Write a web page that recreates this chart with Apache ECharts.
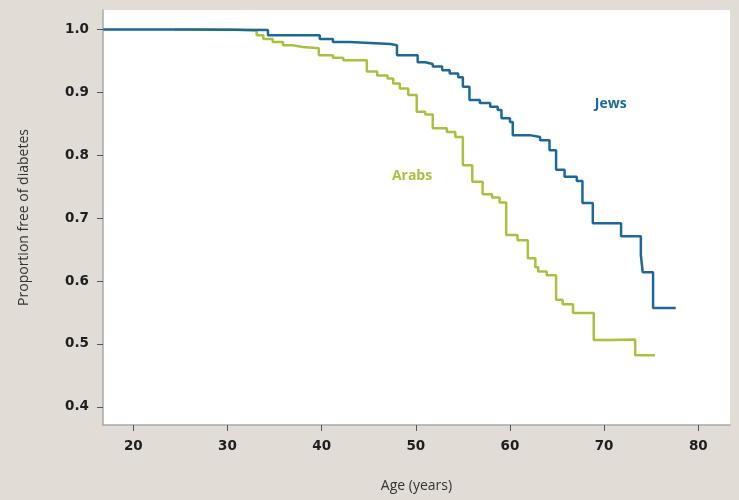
<!DOCTYPE html>
<html>
<head>
<meta charset="utf-8">
<script src="https://cdn.jsdelivr.net/npm/echarts@6/dist/echarts.min.js"></script>
<style>
html,body{margin:0;padding:0;background:#e1dcd6;}
#c{width:739px;height:500px;}
</style>
</head>
<body>
<div id="c"></div>
<script>
// Ages (years) at which each step begins, and survival proportion from that age
const jewsAges = [16.8,25.7,34.3,39.8,41.2,43.0,47.3,48.0,50.2,51.0,51.8,52.8,53.6,54.5,55.0,55.7,56.8,57.9,58.7,59.1,60.0,60.3,62.1,63.2,64.2,64.9,65.8,67.1,67.7,68.8,71.8,73.9,74.1,75.2,77.6];
const jewsVals = [1.000,0.999,0.991,0.985,0.980,0.977,0.975,0.959,0.948,0.945,0.941,0.935,0.930,0.924,0.909,0.888,0.883,0.877,0.872,0.859,0.853,0.832,0.829,0.824,0.808,0.777,0.766,0.759,0.724,0.692,0.671,0.641,0.614,0.557,0.556];
const arabsAges = [24.4,30.6,33.1,33.8,34.8,35.9,36.9,38.0,39.7,41.2,42.3,44.8,45.9,47.0,47.6,48.3,49.2,50.1,51.0,51.8,53.3,54.2,55.0,56.0,57.1,58.1,58.9,59.6,60.8,61.9,62.7,63.0,63.9,64.9,65.6,66.7,68.9,70.8,73.3,75.4];
const arabsVals = [1.000,0.998,0.991,0.985,0.980,0.975,0.972,0.970,0.959,0.955,0.951,0.933,0.927,0.922,0.914,0.906,0.896,0.869,0.865,0.843,0.837,0.829,0.784,0.758,0.738,0.733,0.725,0.673,0.665,0.636,0.622,0.615,0.609,0.570,0.563,0.549,0.506,0.507,0.482,0.481];
const xTicks = [20,30,40,50,60,70,80];
const yTicks = [0.4,0.5,0.6,0.7,0.8,0.9,1.0];
const seriesNames = ['Jews','Arabs'];

const BLUE = '#1c6898', GREEN = '#a8c23f';
const chart = echarts.init(document.getElementById('c'));
const zip = (a,b)=>a.map((v,i)=>[v,b[i]]);
chart.setOption({
  backgroundColor:'#e1dcd6',
  animation:false,
  grid:{left:103,top:10,right:9,bottom:75,show:true,backgroundColor:'#fff',borderWidth:0},
  xAxis:{
    type:'value',min:16.78,max:83.37,
    name:'Age (years)',nameLocation:'middle',nameGap:54,
    nameTextStyle:{fontFamily:'Open Sans',fontSize:14,color:'#333'},
    axisLine:{show:true,lineStyle:{color:'#a8a8a8',width:1.5}},
    axisTick:{show:true,length:6,customValues:xTicks,lineStyle:{color:'#555'}},
    axisLabel:{customValues:xTicks,margin:14,fontFamily:'DejaVu Sans',fontWeight:'bold',fontSize:13.5,color:'#1e1e1e'},
    splitLine:{show:false}
  },
  yAxis:{
    type:'value',min:0.371,max:1.031,
    name:'Proportion free of diabetes',nameLocation:'middle',nameGap:72,
    nameTextStyle:{fontFamily:'Open Sans',fontSize:14,color:'#333'},
    axisLine:{show:true,lineStyle:{color:'#a8a8a8',width:1.5}},
    axisTick:{show:true,length:6,customValues:yTicks,lineStyle:{color:'#555'}},
    axisLabel:{customValues:yTicks,margin:14,fontFamily:'DejaVu Sans',fontWeight:'bold',fontSize:13.5,color:'#1e1e1e',formatter:v=>v.toFixed(1)},
    splitLine:{show:false}
  },
  series:[
    {name:seriesNames[0],type:'line',step:'end',data:zip(jewsAges,jewsVals),showSymbol:false,
     lineStyle:{color:BLUE,width:2.5},z:3,
     markPoint:{symbol:'circle',symbolSize:0,data:[{coord:[70.7,0.881]}],
       label:{show:true,position:'inside',formatter:seriesNames[0],color:BLUE,fontFamily:'Open Sans',fontWeight:'bold',fontSize:14}}},
    {name:seriesNames[1],type:'line',step:'end',data:zip(arabsAges,arabsVals),showSymbol:false,
     lineStyle:{color:GREEN,width:2.5},z:2,
     markPoint:{symbol:'circle',symbolSize:0,data:[{coord:[49.6,0.767]}],
       label:{show:true,position:'inside',formatter:seriesNames[1],color:GREEN,fontFamily:'Open Sans',fontWeight:'bold',fontSize:14}}}
  ]
});
</script>
</body>
</html>
